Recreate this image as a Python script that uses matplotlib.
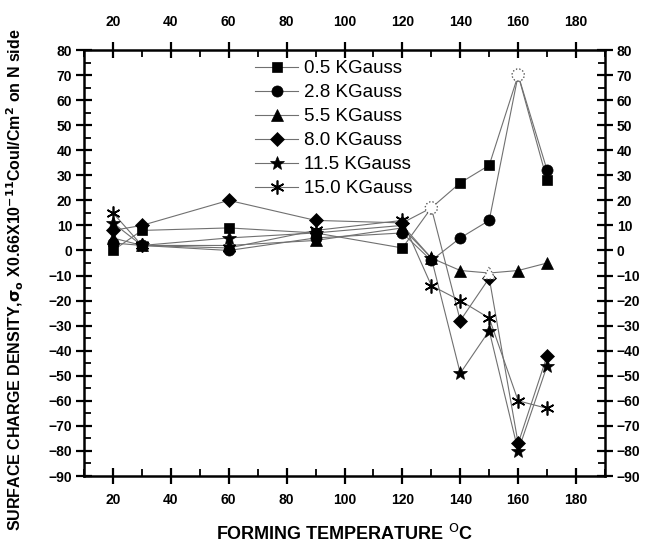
import numpy as np
import matplotlib.pyplot as plt
from matplotlib.ticker import MultipleLocator

plt.rcParams['font.family'] = ['Liberation Sans', 'DejaVu Sans']

# forming temperatures (deg C)
temp = [20, 30, 60, 90, 120, 130, 140, 150, 160, 170]

# surface charge density for each field strength
labels = ['0.5 KGauss', '2.8 KGauss', '5.5 KGauss', '8.0 KGauss', '11.5 KGauss', '15.0 KGauss']
g05 = [0, 8, 9, 7, 1, 17, 27, 34, 70, 28]
g28 = [3, 2, 0, 5, 7, -4, 5, 12, 70, 32]
g55 = [5, 2, 2, 4, 9, -3, -8, -9, -8, -5]
g80 = [8, 10, 20, 12, 11, 17, -28, -11, -77, -42]
g115 = [11, 2, 5, 7, 10, -3, -49, -32, -80, -46]
g150 = [15, 2, 1, 8, 12, -14, -20, -27, -60, -63]
series = [g05, g28, g55, g80, g115, g150]

markers = ['s', 'o', '^', 'D', '*', (6, 2, 0)]
msizes = [6.5, 8, 8, 7, 10, 10]

# points that show up as hollow (dotted) markers in the original
hollow = {0: [5, 8], 1: [8], 2: [7], 3: [5]}

fig, ax = plt.subplots(figsize=(6.49, 5.56), dpi=100)
fig.subplots_adjust(left=84/649, right=605/649, top=1-50/556, bottom=1-476/556)

for i, (y, lab) in enumerate(zip(series, labels)):
    keep = [k for k in range(len(temp)) if k not in hollow.get(i, [])]
    ax.plot(temp, y, color='#707070', lw=0.8, zorder=2)
    ax.plot([temp[k] for k in keep], [y[k] for k in keep], ls='none',
            marker=markers[i], ms=msizes[i], color='black', mew=1.2 if i == 5 else 0.5,
            zorder=3 + i)
    # legend handle
    ax.plot([], [], color='#707070', lw=0.8, marker=markers[i], ms=msizes[i],
            mfc='black', mec='black', mew=1.2 if i == 5 else 0.5, label=lab)

for i, idx in hollow.items():
    mk = '^' if i == 2 else 'o'
    ax.scatter([temp[k] for k in idx], [series[i][k] for k in idx], marker=mk,
               s=75, facecolors='white', edgecolors='#606060', linewidths=0.9,
               linestyles=':', zorder=10)

ax.set_xlim(10, 190)
ax.set_ylim(-90, 80)
ax.xaxis.set_major_locator(MultipleLocator(20))
ax.xaxis.set_minor_locator(MultipleLocator(10))
ax.yaxis.set_major_locator(MultipleLocator(10))
ax.yaxis.set_minor_locator(MultipleLocator(5))
ax.set_xticks(range(20, 181, 20))

ax.tick_params(which='major', direction='inout', length=11, width=1.6,
               top=True, right=True, labelright=True, labelsize=10, pad=3)
ax.tick_params(axis='x', which='major', pad=7)
ax.tick_params(which='minor', direction='in', length=5, width=1.3,
               top=True, right=True)
for t in ax.xaxis.get_major_ticks() + ax.yaxis.get_major_ticks():
    t.label1.set_fontweight('bold')
    t.label2.set_fontweight('bold')
for s in ax.spines.values():
    s.set_linewidth(1.8)

# top tick labels sit a bit further from the frame
top = ax.secondary_xaxis('top')
top.set_xticks(range(20, 181, 20))
top.tick_params(length=0, pad=15, labelsize=10)
top.spines['top'].set_visible(False)
for lbl in top.get_xticklabels():
    lbl.set_fontweight('bold')

ax.set_xlabel('FORMING TEMPERATURE $^{\\mathrm{O}}$C', fontsize=13, fontweight='bold', labelpad=12)
ax.set_ylabel('SURFACE CHARGE DENSITY,$\\mathbf{\\sigma_o}$ X0.66X10$^{\\mathbf{-11}}$Coul/Cm$^{\\mathbf{2}}$ on N side',
              fontsize=11.5, fontweight='bold')
ax.yaxis.set_label_coords(-0.112, 0.46)

ax.legend(loc='upper left', bbox_to_anchor=(255/649, 1 - 60/556),
          bbox_transform=fig.transFigure, frameon=False, fontsize=13.5,
          handlelength=2.3, handletextpad=0.3, labelspacing=0.37, borderpad=0,
          borderaxespad=0)

fig.savefig('out.png', dpi=100)
